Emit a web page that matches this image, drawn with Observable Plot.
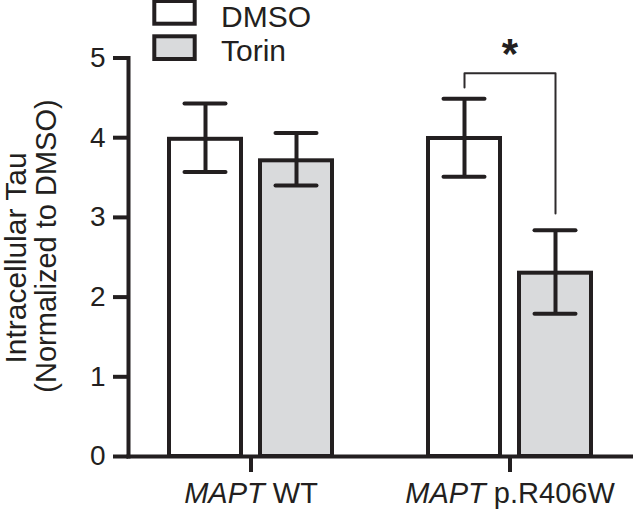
<!DOCTYPE html>
<html>
<head>
<meta charset="utf-8">
<script src="https://cdn.jsdelivr.net/npm/d3@7"></script>
<script src="https://cdn.jsdelivr.net/npm/@observablehq/plot@0.6"></script>
<style>
  html, body { margin: 0; padding: 0; background: #fff; }
  #wrap { position: relative; width: 633px; height: 512px; overflow: hidden; }
  #wrap svg { position: absolute; left: 0; top: 0; }
</style>
</head>
<body>
<div id="wrap"></div>
<script>
// ---- data ----
const groups = ["MAPT WT", "MAPT p.R406W"];
const treatments = ["DMSO", "Torin"];
const dmsoMean = [3.98, 3.99];
const dmsoLow  = [3.57, 3.51];
const dmsoHigh = [4.43, 4.49];
const torinMean = [3.71, 2.30];
const torinLow  = [3.40, 1.79];
const torinHigh = [4.06, 2.84];
const yTicks = [0, 1, 2, 3, 4, 5];
const treatmentColors = ["#ffffff", "#d9dadc"];
// significance bracket (p.R406W: DMSO vs Torin)
const bracketTreatment = ["DMSO", "DMSO", "Torin", "Torin"];
const bracketY = [4.63, 4.81, 4.81, 3.05];
const starY = [5.04];
const starText = ["*"];
const yLabelLines = ["Intracellular Tau", "(Normalized to DMSO)"];

// ---- tables ----
const rows = [];
groups.forEach((g, i) => {
  rows.push({group: g, treatment: "DMSO", mean: dmsoMean[i], lo: dmsoLow[i], hi: dmsoHigh[i]});
  rows.push({group: g, treatment: "Torin", mean: torinMean[i], lo: torinLow[i], hi: torinHigh[i]});
});
const bracket = bracketY.map((y, i) => ({group: groups[1], treatment: bracketTreatment[i], y}));
const star = starY.map((y, i) => ({group: groups[1], y, text: starText[i]}));

const ink = "#231f20";
const font = "Liberation Sans, Arial, Helvetica, sans-serif";

const chart = Plot.plot({
  width: 633,
  height: 512,
  marginTop: 57.5,
  marginBottom: 56,
  marginLeft: 127,
  marginRight: 0,
  style: {fontFamily: font, fontSize: "28px", color: ink, background: "transparent", overflow: "visible"},
  fx: {domain: groups, paddingInner: 0.0538, paddingOuter: 0, label: null},
  x: {domain: treatments, paddingInner: 0.2115, paddingOuter: 0.44, axis: null},
  y: {domain: [0, 5]},
  color: {domain: treatments, range: treatmentColors},
  marks: [
    Plot.barY(rows, {fx: "group", x: "treatment", y: "mean", fill: "treatment", stroke: ink, strokeWidth: 4}),
    Plot.ruleX(rows, {fx: "group", x: "treatment", y1: "lo", y2: "hi", stroke: ink, strokeWidth: 4}),
    Plot.tickY(rows, {fx: "group", x: "treatment", y: "hi", stroke: ink, strokeWidth: 4, insetLeft: 15.5, insetRight: 15.5, strokeLinecap: "round"}),
    Plot.tickY(rows, {fx: "group", x: "treatment", y: "lo", stroke: ink, strokeWidth: 4, insetLeft: 15.5, insetRight: 15.5, strokeLinecap: "round"}),
    Plot.line(bracket, {fx: "group", x: "treatment", y: "y", stroke: "#2e2b2c", strokeWidth: 2}),
    Plot.text(star, {fx: "group", y: "y", text: "text", fontSize: 42, fontWeight: "bold", fill: ink, lineAnchor: "middle"}),
    Plot.frame({anchor: "bottom", facet: "super", stroke: ink, strokeWidth: 4}),
    Plot.frame({anchor: "left", facet: "super", stroke: ink, strokeWidth: 4}),
    Plot.axisY({ticks: yTicks, tickSize: 15, tickPadding: 8, strokeWidth: 4, label: null, fontSize: 28, tickFormat: d => String(d)}),
    Plot.axisFx({anchor: "bottom", tickSize: 16, tickPadding: 10, strokeWidth: 4, label: null, fontSize: 29})
  ]
});

const wrap = document.getElementById("wrap");
wrap.appendChild(chart);
const svg = d3.select(chart);

// italic gene name in facet tick labels
svg.selectAll('g[aria-label="fx-axis tick label"] text').each(function() {
  const t = this.textContent;
  const k = t.indexOf(" ");
  const sel = d3.select(this);
  sel.text(null);
  sel.append("tspan").attr("font-style", "italic").text(t.slice(0, k));
  sel.append("tspan").text(t.slice(k));
});

// legend (top, overlapping the plot's upper margin)
const lg = svg.append("g").attr("aria-label", "legend").attr("font-family", font).attr("fill", ink).attr("text-anchor", "start");
const legendTop = [1, 36.3];
const legendBaseline = [27, 61];
treatments.forEach((t, i) => {
  lg.append("rect")
    .attr("x", 154.3).attr("y", legendTop[i]).attr("width", 40.4).attr("height", 22.7)
    .attr("fill", treatmentColors[i]).attr("stroke", ink).attr("stroke-width", 4);
  lg.append("text")
    .attr("x", 221).attr("y", legendBaseline[i]).attr("font-size", 30).attr("text-anchor", "start").text(t);
});

// y axis title, two lines
const yl = svg.append("g").attr("aria-label", "y-axis label").attr("font-family", font).attr("fill", ink).attr("text-anchor", "middle");
const ylPos = [[26, 258, 30], [56, 246, 29]];
yLabelLines.forEach((s, i) => {
  const [x, y, fs] = ylPos[i];
  yl.append("text").attr("transform", `translate(${x},${y}) rotate(-90)`).attr("font-size", fs).text(s);
});
</script>
</body>
</html>
